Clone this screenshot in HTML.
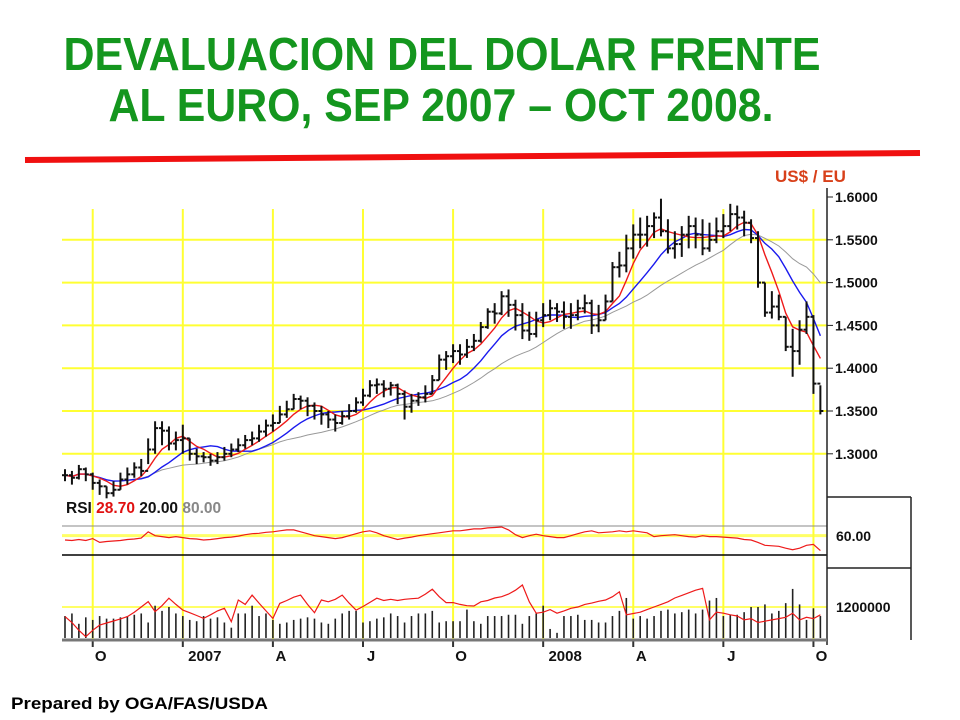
<!DOCTYPE html>
<html><head><meta charset="utf-8"><style>
html,body{margin:0;padding:0;background:#fff;}
svg{display:block;font-family:"Liberation Sans",sans-serif;}
</style></head><body>
<svg id="chart" width="960" height="720" viewBox="0 0 960 720">
<text x="442" y="70" text-anchor="middle" font-family="'Liberation Sans Narrow','Liberation Sans',sans-serif" font-weight="bold" font-size="46" fill="#14961e" textLength="757" lengthAdjust="spacingAndGlyphs">DEVALUACION DEL DOLAR FRENTE</text>
<text x="441" y="121" text-anchor="middle" font-family="'Liberation Sans Narrow','Liberation Sans',sans-serif" font-weight="bold" font-size="46" fill="#14961e" textLength="665" lengthAdjust="spacingAndGlyphs">AL EURO, SEP 2007 – OCT 2008.</text>
<line x1="25" y1="160" x2="920" y2="153" stroke="#f01010" stroke-width="6"/>
<text x="775" y="182" font-weight="bold" font-size="17" fill="#d8401a">US$ / EU</text>
<text x="11" y="709" font-weight="bold" font-size="17" fill="#000" textLength="257" lengthAdjust="spacingAndGlyphs">Prepared by OGA/FAS/USDA</text>
<g id="grid"></g><g id="marks"></g><g id="axes"></g>
</svg>
<script>
const highs=[1.282,1.280,1.287,1.284,1.278,1.270,1.262,1.268,1.278,1.284,1.290,1.294,1.318,1.338,1.338,1.332,1.326,1.334,1.318,1.306,1.302,1.300,1.302,1.308,1.312,1.318,1.322,1.326,1.334,1.340,1.346,1.356,1.362,1.370,1.368,1.366,1.360,1.356,1.350,1.346,1.350,1.358,1.366,1.376,1.386,1.388,1.386,1.384,1.382,1.374,1.370,1.372,1.380,1.392,1.416,1.420,1.428,1.428,1.434,1.440,1.454,1.470,1.476,1.490,1.492,1.480,1.476,1.466,1.466,1.476,1.480,1.476,1.478,1.476,1.480,1.486,1.480,1.474,1.486,1.524,1.536,1.556,1.568,1.576,1.578,1.582,1.598,1.574,1.560,1.566,1.578,1.576,1.574,1.570,1.576,1.580,1.592,1.590,1.584,1.574,1.560,1.500,1.490,1.486,1.460,1.446,1.456,1.478,1.462,1.380];
const lows=[1.268,1.264,1.270,1.268,1.258,1.252,1.248,1.250,1.258,1.264,1.272,1.274,1.288,1.300,1.310,1.304,1.304,1.300,1.292,1.288,1.290,1.286,1.288,1.292,1.296,1.302,1.306,1.310,1.314,1.320,1.326,1.336,1.342,1.352,1.352,1.344,1.340,1.334,1.330,1.326,1.334,1.340,1.348,1.356,1.366,1.370,1.366,1.368,1.358,1.340,1.348,1.356,1.360,1.370,1.386,1.398,1.406,1.404,1.412,1.420,1.430,1.446,1.452,1.462,1.460,1.444,1.434,1.432,1.436,1.448,1.456,1.454,1.446,1.446,1.456,1.464,1.440,1.442,1.456,1.478,1.506,1.512,1.528,1.540,1.542,1.552,1.554,1.534,1.528,1.530,1.540,1.540,1.532,1.536,1.546,1.552,1.560,1.562,1.554,1.546,1.494,1.460,1.458,1.456,1.420,1.390,1.404,1.440,1.370,1.346];
const closes=[1.275,1.272,1.282,1.276,1.266,1.262,1.254,1.258,1.270,1.276,1.284,1.280,1.305,1.330,1.327,1.312,1.316,1.318,1.300,1.297,1.296,1.292,1.296,1.300,1.305,1.310,1.316,1.318,1.326,1.333,1.336,1.346,1.352,1.364,1.362,1.356,1.350,1.346,1.340,1.336,1.344,1.350,1.360,1.368,1.380,1.381,1.376,1.380,1.370,1.355,1.362,1.366,1.370,1.386,1.410,1.414,1.420,1.416,1.425,1.432,1.448,1.466,1.464,1.484,1.474,1.462,1.444,1.440,1.456,1.462,1.470,1.466,1.460,1.462,1.470,1.476,1.450,1.456,1.478,1.518,1.520,1.540,1.556,1.556,1.566,1.576,1.560,1.540,1.545,1.556,1.566,1.556,1.540,1.550,1.560,1.566,1.580,1.576,1.570,1.552,1.500,1.465,1.472,1.460,1.425,1.420,1.445,1.460,1.382,1.350];
const rsi=[51,50,52,50,54,46,48,49,50,52,53,55,68,60,58,56,58,56,54,53,51,52,54,56,57,59,62,64,65,67,68,70,72,72,68,64,60,58,56,54,56,60,64,68,70,66,60,56,52,55,57,60,62,64,66,68,70,70,72,74,74,76,77,78,72,62,56,60,63,60,58,56,56,60,64,68,70,66,67,68,70,68,70,68,66,58,60,61,62,60,58,57,60,58,58,57,56,55,52,51,46,40,39,38,34,31,34,40,42,29];
const volume=[0.85,0.95,0.55,0.8,0.7,0.85,0.75,0.75,0.8,0.85,0.9,0.95,0.6,1.25,1.05,1.2,0.95,0.85,0.7,0.65,0.85,0.75,0.8,0.6,0.4,0.95,0.95,1.25,0.85,0.95,0.7,0.55,0.6,0.7,0.75,0.8,0.75,0.6,0.55,0.75,0.95,1.05,1.05,0.6,0.65,0.75,0.8,0.95,0.85,0.6,0.85,0.95,0.95,1.05,0.6,0.65,0.65,0.65,1.1,0.65,0.55,0.85,0.85,0.85,0.9,0.9,0.55,0.85,0.95,1.25,0.35,0.2,0.85,0.85,0.9,0.7,0.7,0.6,0.6,0.85,1.05,1.55,0.75,0.85,0.75,0.85,1.05,1.1,0.95,1.0,1.1,0.95,1.1,1.45,1.55,0.85,0.9,0.9,1.0,1.2,1.2,1.3,0.95,1.05,1.35,1.9,1.3,0.7,1.15,0.85];
const openInterest=[0.83,0.6,0.3,0.05,0.3,0.5,0.58,0.66,0.74,0.83,1.0,1.2,1.41,1.02,1.25,1.54,1.3,1.08,0.98,0.87,0.76,0.9,1.05,1.15,0.63,1.47,1.3,1.66,1.35,1.05,0.76,1.34,1.45,1.58,1.66,1.3,0.98,1.47,1.4,1.5,1.66,1.35,1.08,1.22,1.38,1.54,1.45,1.5,1.45,1.5,1.52,1.54,1.7,1.89,1.6,1.37,1.37,1.3,1.25,1.24,1.4,1.45,1.55,1.6,1.7,1.85,2.05,1.4,0.96,1.0,1.1,0.96,1.05,1.15,1.2,1.3,1.35,1.42,1.47,1.6,1.79,0.9,0.95,1.0,1.1,1.2,1.3,1.4,1.55,1.65,1.75,1.85,1.92,0.7,1.0,0.96,0.9,0.85,0.7,0.75,0.6,0.65,0.7,0.75,0.8,0.96,0.7,0.8,0.75,0.9];
const priceTicks=[1.6,1.55,1.5,1.45,1.4,1.35,1.3];
const monthLabels=["O","2007","A","J","O","2008","A","J","O"];
const monthIdx=[4,17,30,43,56,69,82,95,108];
const rsiLegend=["28.70","20.00","80.00"];

const NS="http://www.w3.org/2000/svg";
function mk(parent,tag,attrs){const e=document.createElementNS(NS,tag);for(const k in attrs)e.setAttribute(k,attrs[k]);parent.appendChild(e);return e;}
const L=62,R=827;
const xOf=i=>65+i*6.93;
const yPrice=p=>197+(1.6-p)*856;
const yRsi=v=>555-(v-20)*29/60;
const yVol=v=>638-v*31/1.2;
const grid=document.getElementById('grid'),marks=document.getElementById('marks'),axes=document.getElementById('axes');

priceTicks.forEach((p,k)=>{if(k===0)return;
 const l=mk(grid,'line',{x1:L,x2:R,y1:yPrice(p),y2:yPrice(p),stroke:'#ffff33','stroke-width':2});
 
 });
const rg=mk(grid,'line',{x1:L,x2:R,y1:yRsi(60),y2:yRsi(60),stroke:'#ffff66','stroke-width':3});


const vg=mk(grid,'line',{x1:L,x2:R,y1:yVol(1.2),y2:yVol(1.2),stroke:'#ffff66','stroke-width':2});


monthIdx.forEach((i,k)=>{const x=xOf(i);
 const l=mk(grid,'line',{x1:x,x2:x,y1:209,y2:640,stroke:'#ffff33','stroke-width':2});
 
 
 const t=mk(axes,'text',{x:x+(k===1||k===5?22:8),y:661,'text-anchor':'middle','font-weight':'bold','font-size':15,fill:'#111'});
 t.textContent=monthLabels[k];
 
 
 const tk=mk(axes,'line',{x1:x,x2:x,y1:640,y2:647,stroke:'#333','stroke-width':2});
 
 });

const r80=mk(grid,'line',{x1:L,x2:R,y1:yRsi(80),y2:yRsi(80),stroke:'#888','stroke-width':1});


const r20=mk(grid,'line',{x1:L,x2:R,y1:yRsi(20),y2:yRsi(20),stroke:'#000','stroke-width':1.5});



function sma(n){return closes.map((c,i)=>{const s=closes.slice(Math.max(0,i-n+1),i+1);return s.reduce((a,b)=>a+b,0)/s.length;});}
[[20,'#999','ma-20-line',1],[10,'#1a1aee','ma-10-line',1.4],[5,'#ee1a1a','ma-5-line',1.4]].forEach(([n,c,nm,w])=>{
 const m=sma(n);const d=m.map((v,i)=>(i?'L':'M')+xOf(i).toFixed(1)+' '+yPrice(v).toFixed(1)).join(' ');
 const p=mk(marks,'path',{d:d,fill:'none',stroke:c,'stroke-width':w});
 
 });

closes.forEach((c,i)=>{const g=mk(marks,'g',{});
 
 
 const x=xOf(i);
 mk(g,'line',{x1:x,x2:x,y1:yPrice(highs[i]),y2:yPrice(lows[i]),stroke:'#111','stroke-width':2});
 const o=i?closes[i-1]:c;
 mk(g,'line',{x1:x-3,x2:x,y1:yPrice(o),y2:yPrice(o),stroke:'#111','stroke-width':2});
 mk(g,'line',{x1:x,x2:x+3,y1:yPrice(c),y2:yPrice(c),stroke:'#111','stroke-width':2});});

const rp=mk(marks,'path',{d:rsi.map((v,i)=>(i?'L':'M')+xOf(i).toFixed(1)+' '+yRsi(v).toFixed(1)).join(' '),fill:'none',stroke:'#ee1a1a','stroke-width':1.2});



volume.forEach((v,i)=>{const b=mk(marks,'line',{x1:xOf(i),x2:xOf(i),y1:638,y2:yVol(v),stroke:'#222','stroke-width':1.6});
 
 });
const op=mk(marks,'path',{d:openInterest.map((v,i)=>(i?'L':'M')+xOf(i).toFixed(1)+' '+yVol(v).toFixed(1)).join(' '),fill:'none',stroke:'#ee1a1a','stroke-width':1.2});



const ax=mk(axes,'line',{x1:R,x2:R,y1:188,y2:645,stroke:'#222','stroke-width':1.5});


priceTicks.forEach(p=>{const y=yPrice(p);
 mk(axes,'line',{x1:R,x2:R+6,y1:y,y2:y,stroke:'#222'});
 const t=mk(axes,'text',{x:835,y:y+5,'font-weight':'bold','font-size':14,fill:'#111'});
 t.textContent=p.toFixed(4);
 
 });
[[497],[568]].forEach(([y])=>mk(axes,'line',{x1:R,x2:911,y1:y,y2:y,stroke:'#222','stroke-width':1.5}));
mk(axes,'line',{x1:911,x2:911,y1:497,y2:640,stroke:'#222','stroke-width':1.5});
mk(axes,'line',{x1:L,x2:R,y1:640,y2:640,stroke:'#777','stroke-width':3});
const t60=mk(axes,'text',{x:836,y:541,'font-weight':'bold','font-size':14,fill:'#111'});t60.textContent='60.00';


const tv=mk(axes,'text',{x:836,y:612,'font-weight':'bold','font-size':14,fill:'#111'});tv.textContent='1200000';


const lg=mk(axes,'text',{x:66,y:513,'font-weight':'bold','font-size':15.5});


[['RSI ','#111'],[rsiLegend[0]+'  ','#e01010'],[rsiLegend[1]+'  ','#111'],[rsiLegend[2],'#888']].forEach(([s,c])=>{const ts=mk(lg,'tspan',{fill:c,'xml:space':'preserve'});ts.textContent=s;});
</script>
</body></html>
